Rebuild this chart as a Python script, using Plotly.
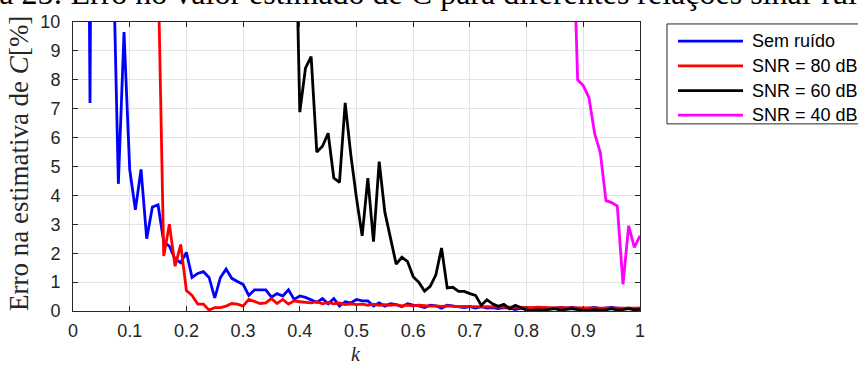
import plotly.graph_objects as go

# ---------------- data ----------------
k = [round(0.01 * i, 2) for i in range(1, 101)]

sem_ruido = [80, 35, 7.2, 45, 30, 22, 13.7, 4.4, 9.65, 4.9,
             3.5, 4.9, 2.5, 3.6, 3.67, 2.4, 2.24, 1.8, 1.67, 2.03,
             1.16, 1.3, 1.36, 1.16, 0.45, 1.16, 1.45, 1.13, 1.02, 0.92,
             0.54, 0.73, 0.73, 0.73, 0.48, 0.6, 0.52, 0.73, 0.4, 0.52,
             0.47, 0.38, 0.3, 0.43, 0.25, 0.43, 0.17, 0.32, 0.28, 0.4,
             0.35, 0.35, 0.17, 0.28, 0.17, 0.25, 0.22, 0.15, 0.25, 0.2,
             0.18, 0.12, 0.2, 0.18, 0.1, 0.2, 0.18, 0.15, 0.12, 0.15,
             0.1, 0.15, 0.1, 0.12, 0.08, 0.12, 0.1, 0.05, 0.1, 0.08,
             0.1, 0.12, 0.1, 0.08, 0.1, 0.12, 0.1, 0.12, 0.1, 0.08,
             0.1, 0.12, 0.08, 0.1, 0.12, 0.1, 0.08, 0.1, 0.08, 0.1]

snr80 = [400, 300, 250, 200, 160, 130, 100, 80, 65, 50,
         40, 30, 24, 18, 12, 1.9, 3.0, 1.55, 2.3, 0.71,
         0.54, 0.24, 0.24, 0.03, 0.12, 0.12, 0.17, 0.26, 0.24, 0.17,
         0.4, 0.32, 0.26, 0.28, 0.43, 0.26, 0.4, 0.24, 0.35, 0.32,
         0.3, 0.28, 0.32, 0.25, 0.3, 0.25, 0.28, 0.22, 0.25, 0.22,
         0.24, 0.2, 0.24, 0.2, 0.22, 0.2, 0.22, 0.18, 0.2, 0.18,
         0.2, 0.18, 0.17, 0.18, 0.16, 0.18, 0.16, 0.15, 0.16, 0.15,
         0.15, 0.14, 0.15, 0.14, 0.13, 0.14, 0.13, 0.13, 0.12, 0.13,
         0.12, 0.13, 0.12, 0.12, 0.11, 0.12, 0.11, 0.12, 0.11, 0.11,
         0.1, 0.11, 0.1, 0.1, 0.11, 0.1, 0.1, 0.09, 0.1, 0.1]

snr60 = [900, 800, 700, 620, 550, 490, 440, 400, 360, 330,
         300, 270, 250, 230, 210, 190, 175, 160, 150, 140,
         130, 120, 110, 100, 92, 85, 78, 70, 64, 58,
         52, 47, 42, 37, 32, 28, 24, 20, 16, 6.88,
         8.4, 8.8, 5.5, 5.7, 6.15, 4.6, 4.45, 7.2, 5.4, 3.9,
         2.6, 4.6, 2.4, 5.17, 3.42, 2.52, 1.62, 1.86, 1.71, 1.19,
         0.99, 0.69, 0.85, 1.25, 2.18, 0.8, 0.82, 0.68, 0.68, 0.6,
         0.54, 0.2, 0.39, 0.25, 0.16, 0.23, 0.08, 0.2, 0.12, 0.03,
         0.02, 0.05, 0.03, 0.06, 0.08, 0.03, 0.05, 0.08, 0.05, 0.02,
         0.03, 0.05, 0.03, 0.04, 0.08, 0.03, 0.05, 0.08, 0.04, 0.06]

snr40 = [5000, 4500, 4000, 3600, 3300, 3000, 2700, 2500, 2300, 2100,
         1950, 1800, 1650, 1500, 1400, 1300, 1200, 1100, 1020, 950,
         880, 820, 760, 700, 650, 600, 560, 520, 480, 450,
         420, 390, 360, 335, 310, 290, 270, 250, 235, 220,
         205, 190, 178, 166, 155, 145, 135, 126, 118, 110,
         103, 96, 90, 84, 78, 73, 68, 64, 60, 56,
         52, 49, 46, 43, 40, 38, 36, 34, 32, 30,
         28.5, 27, 25.5, 24, 23, 22, 21, 20, 19, 18.5,
         18, 17.5, 17, 16.8, 16.4, 16, 15.5, 14.7, 8.0, 7.8,
         7.38, 6.14, 5.48, 3.82, 3.75, 3.63, 0.92, 2.95, 2.2, 2.6]

series_names = ["Sem ruído", "SNR = 80 dB", "SNR = 60 dB", "SNR = 40 dB"]
series_values = [sem_ruido, snr80, snr60, snr40]
series_colors = ["#0000ff", "#ff0000", "#000000", "#ff00ff"]

x_tickvals = [0, 0.1, 0.2, 0.3, 0.4, 0.5, 0.6, 0.7, 0.8, 0.9, 1]
x_ticktext = ["0", "0.1", "0.2", "0.3", "0.4", "0.5", "0.6", "0.7", "0.8", "0.9", "1"]
y_tickvals = [0, 1, 2, 3, 4, 5, 6, 7, 8, 9, 10]
y_ticktext = ["0", "1", "2", "3", "4", "5", "6", "7", "8", "9", "10"]

title_text = "Figura 25: Erro no valor estimado de C para diferentes relações sinal-ruído"
ylabel_text = "Erro na estimativa de <i>C</i>[%]"
xlabel_text = "<i>k</i>"

# ---------------- layout helpers ----------------
W, H = 858, 367
L, R, T, B = 73, 640, 16, 311


def px(xp):
    return (xp - L) / (R - L)


def py(yp):
    return (B - yp) / (B - T)


fig = go.Figure()
for name, vals, col in zip(series_names, series_values, series_colors):
    fig.add_trace(go.Scatter(x=k, y=vals, mode="lines", name=name,
                             line=dict(color=col, width=2.8), showlegend=False))

axis_common = dict(showline=True, linecolor="#262626", linewidth=1, mirror="ticks",
                   ticks="inside", ticklen=5, tickcolor="#262626", tickwidth=1,
                   showgrid=True, gridcolor="#e3e3e3", gridwidth=1, zeroline=False,
                   tickfont=dict(family="Liberation Sans", size=18, color="#262626"))

fig.update_xaxes(range=[0, 1], tickvals=x_tickvals, ticktext=x_ticktext,
                 ticklabelstandoff=3, **axis_common)
fig.update_yaxes(range=[0, 10], tickvals=y_tickvals, ticktext=y_ticktext,
                 ticklabelstandoff=8, **axis_common)

annotations = [
    dict(text=title_text, xref="paper", yref="paper", x=px(-72), y=py(-14),
         xanchor="left", yanchor="middle", showarrow=False,
         font=dict(family="Liberation Serif", size=32, color="black")),
    dict(text=ylabel_text, xref="paper", yref="paper", x=px(19), y=py(161),
         xanchor="center", yanchor="middle", textangle=-90, showarrow=False,
         font=dict(family="Liberation Serif", size=27, color="#262626")),
    dict(text=xlabel_text, xref="paper", yref="paper", x=px(356), y=py(355),
         xanchor="center", yanchor="middle", showarrow=False,
         font=dict(family="Liberation Serif", size=20, color="#262626")),
]

shapes = [dict(type="rect", xref="paper", yref="paper", x0=px(667), x1=px(880),
               y0=py(18), y1=py(120), line=dict(color="#262626", width=1),
               fillcolor="white", layer="above")]
row_y = [35.5, 60.7, 86, 111]
for name, col, ry in zip(series_names, series_colors, row_y):
    shapes.append(dict(type="line", xref="paper", yref="paper", x0=px(678), x1=px(743),
                       y0=py(ry), y1=py(ry), line=dict(color=col, width=2.8), layer="above"))
    annotations.append(dict(text=name, xref="paper", yref="paper", x=px(750), y=py(ry),
                            xanchor="left", yanchor="middle", showarrow=False,
                            font=dict(family="Liberation Sans", size=18, color="black")))

fig.update_layout(width=W, height=H, margin=dict(l=L, r=W - R, t=T, b=H - B),
                  paper_bgcolor="white", plot_bgcolor="white",
                  annotations=annotations, shapes=shapes, showlegend=False)

fig.write_html("out.html")
